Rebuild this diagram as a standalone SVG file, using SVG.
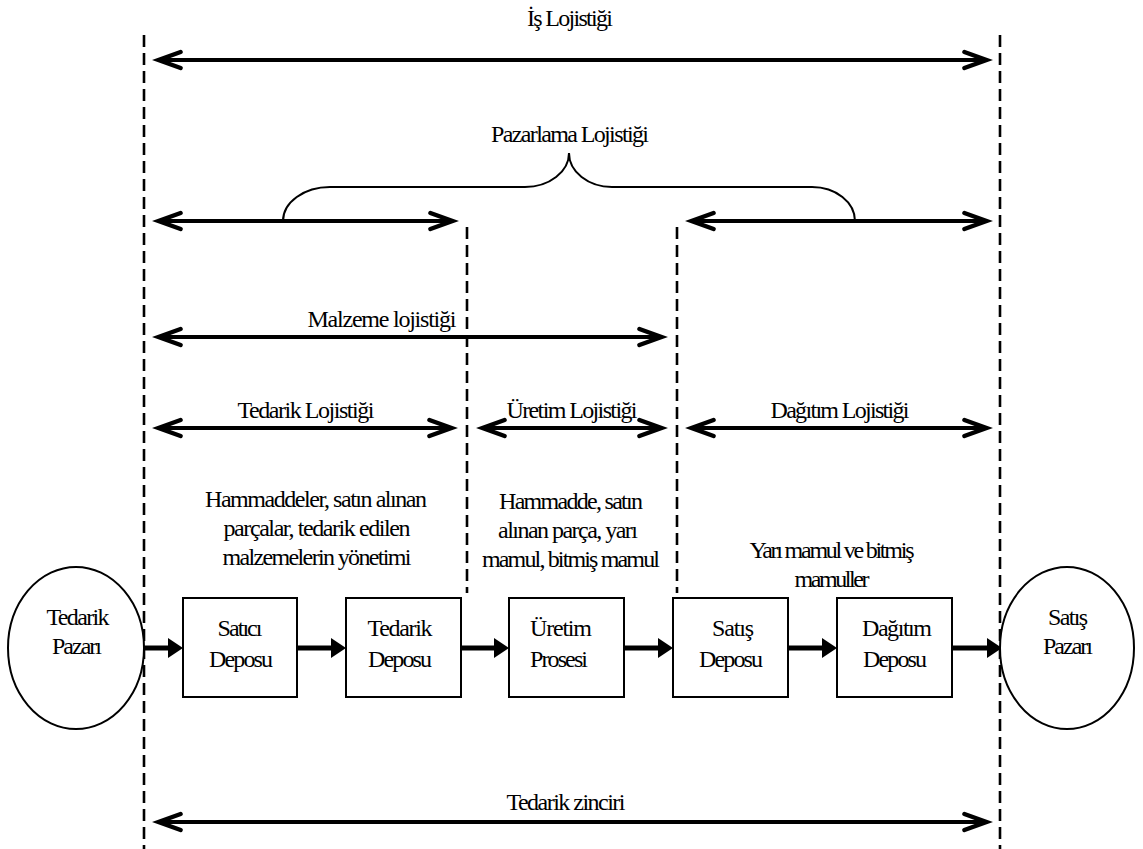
<svg xmlns="http://www.w3.org/2000/svg" width="1143" height="849" viewBox="0 0 1143 849" style="font-family: 'Liberation Serif', 'Times New Roman', Times, serif">
  <style>
    text { font-family: 'Liberation Serif', 'Times New Roman', Times, serif; }
    .lbl { font-size: 24px; text-anchor: middle; fill: #000; }
    .span { fill: none; stroke: #000; stroke-width: 4; marker-start: url(#chev); marker-end: url(#chev); }
    .guide { fill: none; stroke: #000; stroke-width: 2.6; stroke-dasharray: 12 6; }
    .shape { fill: #fff; stroke: #000; stroke-width: 2; }
    .flow { fill: none; stroke: #000; stroke-width: 5; marker-end: url(#tri); }
    .brace { fill: none; stroke: #000; stroke-width: 2; }
  </style>
  <defs>
    <!-- open chevron head for the two-way span arrows -->
    <marker id="chev" viewBox="-30 -14 36 28" refX="0" refY="0" markerWidth="36" markerHeight="28" markerUnits="userSpaceOnUse" orient="auto-start-reverse" overflow="visible">
      <path d="M-22,-8 L0,0 L-22,8" fill="none" stroke="#000" stroke-width="4.5" stroke-linecap="round" stroke-linejoin="miter"/>
    </marker>
    <!-- solid triangle head for the material flow -->
    <marker id="tri" viewBox="0 -11 16 22" refX="0" refY="0" markerWidth="16" markerHeight="22" markerUnits="userSpaceOnUse" orient="auto" overflow="visible">
      <path d="M0,-10 L15,0 L0,10 Z" fill="#000"/>
    </marker>
  </defs>

  <rect width="1143" height="849" fill="#fff"/>

  <!-- dashed boundary guides -->
  <g id="guides">
    <line class="guide" x1="144" y1="35" x2="144" y2="849"/>
    <line class="guide" x1="1000" y1="35" x2="1000" y2="849"/>
    <line class="guide" x1="467" y1="227" x2="467" y2="593"/>
    <line class="guide" x1="677" y1="227" x2="677" y2="593"/>
  </g>

  <!-- scope spans -->
  <g id="spans">
    <text class="lbl" x="570" y="26" textLength="86">İş Lojistiği</text>
    <line class="span" x1="158.6" y1="60" x2="986.4" y2="60"/>

    <text class="lbl" x="570" y="142" textLength="158">Pazarlama Lojistiği</text>
    <path class="brace" d="M283,221 A47,34 0 0 1 330,187 L525,187 A44,34 0 0 0 569,153 A43,34 0 0 0 612,187 L812,187 A43,34 0 0 1 855,221"/>
    <line class="span" x1="158.6" y1="221" x2="452.4" y2="221"/>
    <line class="span" x1="691.6" y1="221" x2="986.4" y2="221"/>

    <text class="lbl" x="382" y="327" textLength="149">Malzeme lojistiği</text>
    <line class="span" x1="158.6" y1="337" x2="661.4" y2="337"/>

    <text class="lbl" x="306" y="418" textLength="137">Tedarik Lojistiği</text>
    <line class="span" x1="158.6" y1="428" x2="451.4" y2="428"/>
    <text class="lbl" x="572" y="418" textLength="131">Üretim Lojistiği</text>
    <line class="span" x1="482.6" y1="428" x2="661.4" y2="428"/>
    <text class="lbl" x="840" y="418" textLength="139">Dağıtım Lojistiği</text>
    <line class="span" x1="691.6" y1="428" x2="986.4" y2="428"/>

    <text class="lbl" x="566" y="810" textLength="119">Tedarik zinciri</text>
    <line class="span" x1="158.6" y1="822" x2="986.4" y2="822"/>
  </g>

  <!-- stage descriptions -->
  <g id="notes">
    <text class="lbl" x="316" y="507" textLength="222">Hammaddeler, satın alınan</text>
    <text class="lbl" x="317" y="536" textLength="187">parçalar, tedarik edilen</text>
    <text class="lbl" x="317" y="565" textLength="189">malzemelerin yönetimi</text>
    <text class="lbl" x="571" y="509" textLength="144">Hammadde, satın</text>
    <text class="lbl" x="568" y="538" textLength="140">alınan parça, yarı</text>
    <text class="lbl" x="571" y="567" textLength="178">mamul, bitmiş mamul</text>
    <text class="lbl" x="832" y="558" textLength="165">Yarı mamul ve bitmiş</text>
    <text class="lbl" x="832" y="587" textLength="75">mamuller</text>
  </g>

  <!-- material flow -->
  <g id="connectors">
    <line class="flow" x1="136" y1="648" x2="168" y2="648"/>
    <line class="flow" x1="297" y1="648" x2="331" y2="648"/>
    <line class="flow" x1="461" y1="648" x2="494" y2="648"/>
    <line class="flow" x1="624" y1="648" x2="658" y2="648"/>
    <line class="flow" x1="788" y1="648" x2="822" y2="648"/>
    <line class="flow" x1="952" y1="648" x2="987" y2="648"/>
  </g>

  <g id="nodes">
    <g id="tedarik-pazari">
      <ellipse class="shape" cx="76" cy="648" rx="68" ry="81"/>
      <text class="lbl" x="78" y="625" textLength="63">Tedarik</text>
      <text class="lbl" x="77" y="654" textLength="50">Pazarı</text>
    </g>

    <g id="satici-deposu">
      <rect class="shape" x="183" y="598" width="114" height="99"/>
      <text class="lbl" x="240" y="636" textLength="45">Satıcı</text>
      <text class="lbl" x="241" y="667" textLength="64">Deposu</text>
    </g>

    <g id="tedarik-deposu">
      <rect class="shape" x="346" y="598" width="115" height="99"/>
      <text class="lbl" x="400" y="636" textLength="65">Tedarik</text>
      <text class="lbl" x="400" y="667" textLength="64">Deposu</text>
    </g>

    <g id="uretim-prosesi">
      <rect class="shape" x="509" y="598" width="115" height="99"/>
      <text class="lbl" x="561" y="636" textLength="62">Üretim</text>
      <text class="lbl" x="559" y="667" textLength="58">Prosesi</text>
    </g>

    <g id="satis-deposu">
      <rect class="shape" x="673" y="598" width="115" height="99"/>
      <text class="lbl" x="733" y="636" textLength="42">Satış</text>
      <text class="lbl" x="731" y="667" textLength="64">Deposu</text>
    </g>

    <g id="dagitim-deposu">
      <rect class="shape" x="837" y="598" width="115" height="99"/>
      <text class="lbl" x="897" y="636" textLength="70">Dağıtım</text>
      <text class="lbl" x="895" y="667" textLength="64">Deposu</text>
    </g>

    <g id="satis-pazari">
      <ellipse class="shape" cx="1067" cy="648" rx="67" ry="81"/>
      <text class="lbl" x="1068" y="625" textLength="40">Satış</text>
      <text class="lbl" x="1068" y="654" textLength="50">Pazarı</text>
    </g>
  </g>
</svg>
